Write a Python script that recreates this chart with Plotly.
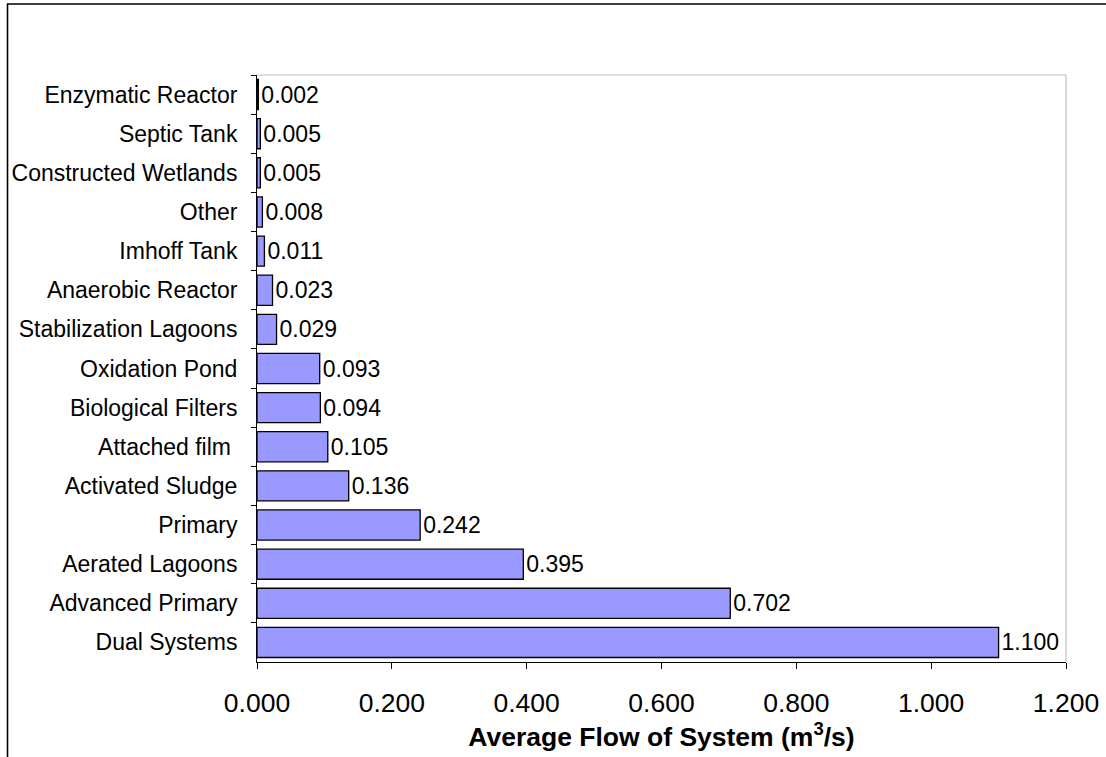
import plotly.graph_objects as go

# Treatment systems, listed top to bottom as displayed
systems = [
    "Enzymatic Reactor", "Septic Tank", "Constructed Wetlands", "Other",
    "Imhoff Tank", "Anaerobic Reactor", "Stabilization Lagoons",
    "Oxidation Pond", "Biological Filters", "Attached film\u00a0",
    "Activated Sludge", "Primary", "Aerated Lagoons", "Advanced Primary",
    "Dual Systems",
]
avg_flow = [
    0.002, 0.005, 0.005, 0.008, 0.011, 0.023, 0.029, 0.093, 0.094,
    0.105, 0.136, 0.242, 0.395, 0.702, 1.100,
]
x_ticks = [0.0, 0.2, 0.4, 0.6, 0.8, 1.0, 1.2]
x_tick_text = [f"{v:.3f}" for v in x_ticks]

FONT = "Arial, Liberation Sans, sans-serif"

fig = go.Figure(
    go.Bar(
        y=systems,
        x=avg_flow,
        orientation="h",
        marker=dict(color="#9999FF", line=dict(color="#000000", width=1.3)),
        text=[f"{v:.3f}" for v in avg_flow],
        textposition="outside",
        textfont=dict(family=FONT, size=23, color="#000000"),
        constraintext="none",
        cliponaxis=False,
        width=0.77,
    )
)

fig.update_layout(
    width=1106,
    height=757,
    margin=dict(l=257, r=40, t=75, b=95),
    paper_bgcolor="#FFFFFF",
    plot_bgcolor="#FFFFFF",
    showlegend=False,
    font=dict(family=FONT, color="#000000"),
    xaxis=dict(
        range=[0, 1.2],
        tickvals=x_ticks,
        ticktext=x_tick_text,
        tickfont=dict(size=26.5),
        ticks="outside",
        ticklen=6,
        tickcolor="#000000",
        showgrid=False,
        zeroline=False,
        showline=True,
        linecolor="#000000",
        linewidth=1,
        ticklabelstandoff=11,
        automargin=False,
        title=dict(
            text="<b>Average Flow of System (m<sup>3</sup>/s)</b>",
            font=dict(size=26.5),
            standoff=4,
        ),
    ),
    yaxis=dict(
        autorange="reversed",
        tickfont=dict(size=23),
        ticks="outside",
        ticklen=5,
        tickcolor="#000000",
        tickson="boundaries",
        showgrid=False,
        zeroline=False,
        showline=True,
        linecolor="#000000",
        linewidth=1,
        ticklabelstandoff=14,
        automargin=False,
    ),
    shapes=[
        # light grey top and right edges of the plotting area
        dict(type="line", xref="paper", yref="paper", x0=0, x1=1, y0=1, y1=1,
             line=dict(color="#C0C0C0", width=1.2), layer="below"),
        dict(type="line", xref="paper", yref="paper", x0=1, x1=1, y0=0, y1=1,
             line=dict(color="#C0C0C0", width=1.2), layer="below"),
        # outer chart frame
        dict(type="rect", xref="paper", yref="paper",
             x0=-0.3084, x1=1.2, y0=-0.3, y1=1.1209,
             line=dict(color="#000000", width=1.6), layer="below"),
    ],
)

fig.write_html("out.html")
